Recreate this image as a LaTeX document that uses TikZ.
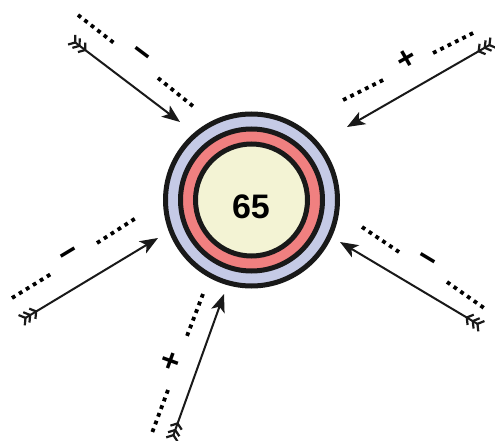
\documentclass[tikz,border=0pt]{standalone}
\usepackage{fontspec}
\setmainfont{Liberation Sans}
\usetikzlibrary{arrows.meta}
\definecolor{ringblue}{RGB}{197,202,230}
\definecolor{ringred}{RGB}{240,128,128}
\definecolor{corecream}{RGB}{243,243,212}
\tikzset{
  ring/.style={draw=black!90, line width=5pt},
  barb/.style={},
  flecharrow/.style={draw=black!90, line width=2pt,
    arrows={{Straight Barb[reversed,length=4.5pt,width=12pt,line width=2.2pt,sep=-1.5pt]Straight Barb[reversed,length=4.5pt,width=12pt,line width=2.2pt,sep=-1.5pt]Straight Barb[reversed,length=4.5pt,width=12pt,line width=2.2pt]}-{Stealth[length=18pt,width=14pt,inset=4.5pt]}}},
  dotline/.style={draw=black, line width=3.8pt, dash pattern=on 3.8pt off 4.4pt},
  sign/.style={font=\fontsize{32}{32}\selectfont\bfseries, inner sep=0pt}
}
\begin{document}
\begin{tikzpicture}[x=1pt,y=-1pt]
\useasboundingbox (0,0) rectangle (495,441);
% rings
\path[ring, fill=ringblue] (251.5,200) circle (86);
\path[ring, fill=ringred] (251.5,200) circle (71);
\path[ring, fill=corecream] (251.5,200) circle (56);
\node[font=\fontsize{34}{34}\selectfont\bfseries, inner sep=0pt] (core) at (251,207) {65};
% arrow end points
\coordinate (t1) at (72,40);   \coordinate (h1) at (180,122);
\coordinate (t2) at (493,43);  \coordinate (h2) at (347,127);
\coordinate (t3) at (22,320);  \coordinate (h3) at (158,238);
\coordinate (t4) at (481,326); \coordinate (h4) at (340,242);
\coordinate (t5) at (172,439); \coordinate (h5) at (224,294);
\draw[flecharrow] (t1) -- (h1);
\draw[flecharrow] (t2) -- (h2);
\draw[flecharrow] (t3) -- (h3);
\draw[flecharrow] (t4) -- (h4);
\draw[flecharrow] (t5) -- (h5);
% dotted lines
\coordinate (a1) at (78,15);   \coordinate (b1) at (114,43);
\coordinate (c1) at (158,78);  \coordinate (d1) at (194,107);
\draw[dotline] (a1) -- (b1); \draw[dotline] (c1) -- (d1);
\coordinate (a2) at (343,100); \coordinate (b2) at (385,79);
\coordinate (c2) at (433,53);  \coordinate (d2) at (475,32);
\draw[dotline] (a2) -- (b2); \draw[dotline] (c2) -- (d2);
\coordinate (a3) at (12,298);  \coordinate (b3) at (51,274);
\coordinate (c3) at (97,243);  \coordinate (d3) at (136,218);
\draw[dotline] (a3) -- (b3); \draw[dotline] (c3) -- (d3);
\coordinate (a4) at (362,227); \coordinate (b4) at (399,252);
\coordinate (c4) at (447,282); \coordinate (d4) at (484,308);
\draw[dotline] (a4) -- (b4); \draw[dotline] (c4) -- (d4);
\coordinate (a5) at (203,294); \coordinate (b5) at (187,336);
\coordinate (c5) at (168,390); \coordinate (d5) at (152,433);
\draw[dotline] (a5) -- (b5); \draw[dotline] (c5) -- (d5);
% signs
\node[sign, rotate=-37] (s1) at (140,56) {−};
\node[sign, rotate=30] (s2) at (407,60) {+};
\node[sign, rotate=31] (s3) at (70,256) {−};
\node[sign, rotate=-31] (s4) at (426,262) {−};
\node[sign, rotate=70] (s5) at (172,362) {+};
\end{tikzpicture}
\end{document}
